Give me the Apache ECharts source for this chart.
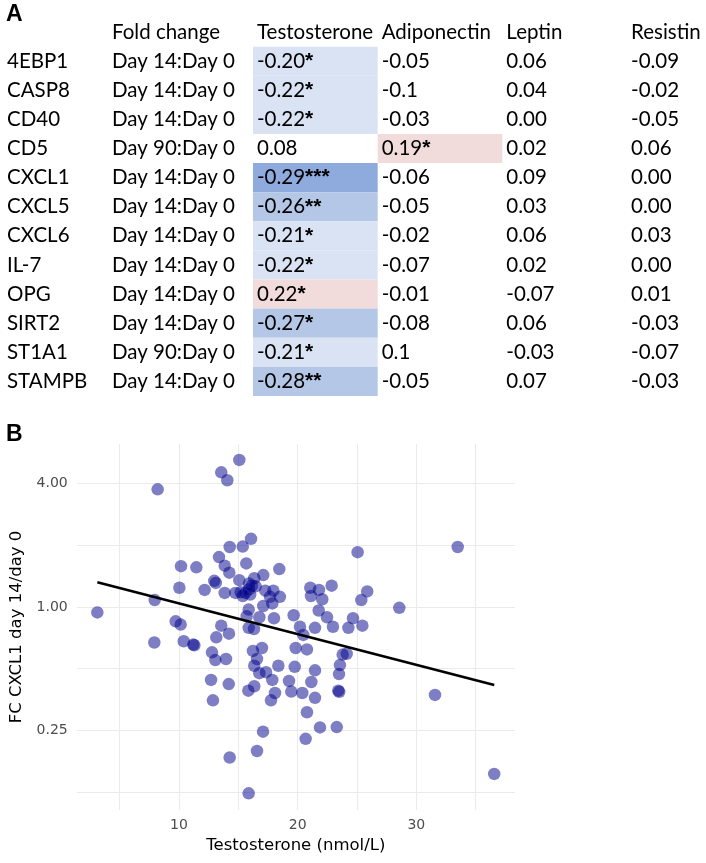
<!DOCTYPE html>
<html><head><meta charset="utf-8">
<script src="https://cdn.jsdelivr.net/npm/echarts@6/dist/echarts.min.js"></script>
<style>html,body{margin:0;padding:0;background:#fff}#c{width:706px;height:863px}</style>
</head><body><div id="c"></div>
<script>
// ---------- Panel A data ----------
const columns = ['Testosterone', 'Adiponectin', 'Leptin', 'Resistin'];
const genes = ['4EBP1', 'CASP8', 'CD40', 'CD5', 'CXCL1', 'CXCL5', 'CXCL6', 'IL-7', 'OPG', 'SIRT2', 'ST1A1', 'STAMPB'];
const foldChange = ['Day 14:Day 0', 'Day 14:Day 0', 'Day 14:Day 0', 'Day 90:Day 0', 'Day 14:Day 0', 'Day 14:Day 0',
  'Day 14:Day 0', 'Day 14:Day 0', 'Day 14:Day 0', 'Day 14:Day 0', 'Day 90:Day 0', 'Day 14:Day 0'];
const testosterone = ['-0.20', '-0.22', '-0.22', '0.08', '-0.29', '-0.26', '-0.21', '-0.22', '0.22', '-0.27', '-0.21', '-0.28'];
const testosteroneSig = ['*', '*', '*', '', '***', '**', '*', '*', '*', '*', '*', '**'];
const adiponectin = ['-0.05', '-0.1', '-0.03', '0.19', '-0.06', '-0.05', '-0.02', '-0.07', '-0.01', '-0.08', '0.1', '-0.05'];
const adiponectinSig = ['', '', '', '*', '', '', '', '', '', '', '', ''];
const leptin = ['0.06', '0.04', '0.00', '0.02', '0.09', '0.03', '0.06', '0.02', '-0.07', '0.06', '-0.03', '0.07'];
const leptinSig = ['', '', '', '', '', '', '', '', '', '', '', ''];
const resistin = ['-0.09', '-0.02', '-0.05', '0.06', '0.00', '0.00', '0.03', '0.00', '0.01', '-0.03', '-0.07', '-0.03'];
const resistinSig = ['', '', '', '', '', '', '', '', '', '', '', ''];

// ---------- Panel B data ----------
const scatterX = [15.08, 13.56, 14.07, 8.2, 16.07, 15.37, 14.27, 13.37, 10.17, 11.46, 13.85, 14.24, 15.67, 18.45, 17.1,
  16.34, 12.97, 13.1, 15.08, 10.03, 12.16, 13.85, 16.15, 16.46, 15.9, 15.6, 15.2, 14.75, 15.37, 16.0, 15.9,
  17.27, 17.95, 17.67, 18.5, 17.86, 17.1, 15.87, 15.7, 18.0, 16.77, 7.95, 3.12, 9.72, 10.14, 13.56, 14.21, 13.14,
  15.87, 16.32, 7.92, 10.4, 11.29, 11.2, 12.78, 13.06, 13.96, 16.23, 16.99, 16.57, 16.34, 16.77, 17.33, 18.37,
  17.86, 12.7, 14.19, 12.86, 15.84, 16.34, 18.09, 17.75, 17.08, 16.57, 14.27, 15.87,
  25.05, 33.48, 21.06, 21.79, 21.12, 22.86, 22.07, 25.86, 25.36, 21.77, 19.66, 22.47, 28.56, 20.19, 21.46, 22.97,
  24.66, 24.27, 25.45, 20.47, 19.83, 20.78, 23.79, 24.13, 23.56, 23.48, 23.42, 23.5, 19.75, 21.46, 19.27, 21.15,
  19.46, 20.39, 21.46, 20.78, 21.88, 23.29, 20.67, 31.57, 36.56];
const scatterY = [5.22, 4.54, 4.15, 3.75, 2.15, 1.97, 1.96, 1.75, 1.58, 1.56, 1.59, 1.47, 1.63, 1.53, 1.43,
  1.38, 1.34, 1.31, 1.35, 1.24, 1.21, 1.17, 1.27, 1.26, 1.22, 1.17, 1.18, 1.17, 1.13, 1.15, 1.30,
  1.2, 1.2, 1.12, 1.12, 1.04, 1.01, 0.97, 0.90, 0.88, 0.89, 1.08, 0.94, 0.85, 0.82, 0.81, 0.74, 0.71,
  0.79, 0.78, 0.67, 0.68, 0.65, 0.655, 0.60, 0.55, 0.557, 0.61, 0.63, 0.557, 0.516, 0.475, 0.48, 0.516,
  0.44, 0.44, 0.42, 0.35, 0.39, 0.41, 0.38, 0.35, 0.246, 0.198, 0.184, 0.123,
  1.85, 1.96, 1.24, 1.21, 1.13, 1.27, 1.09, 1.19, 1.08, 0.96, 0.91, 0.89, 0.99, 0.80, 0.79, 0.80,
  0.88, 0.79, 0.81, 0.73, 0.63, 0.62, 0.585, 0.59, 0.52, 0.47, 0.39, 0.385, 0.51, 0.49, 0.435, 0.43,
  0.386, 0.38, 0.36, 0.306, 0.258, 0.259, 0.227, 0.372, 0.153];
const fitX = [3.12, 36.56];
const fitY = [1.32, 0.416];
const xTicks = [5, 10, 15, 20, 25, 30, 35];
const xTickLabels = [10, 20, 30];
const yTicks = [0.125, 0.25, 0.5, 1, 2, 4];
const yTickLabels = [0.25, 1, 4];

// ---------- build ----------
const valueCols = [testosterone, adiponectin, leptin, resistin];
const sigCols = [testosteroneSig, adiponectinSig, leptinSig, resistinSig];
function cellFill(v, sig) {
  if (!sig) return null;
  const n = parseFloat(v);
  if (n > 0) return '#f2dcdb';
  if (n <= -0.29) return '#8faadc';
  if (n <= -0.25) return '#b4c7e7';
  return '#dae3f3';
}
const cells = [];
columns.forEach((name, c) => cells.push({ value: [c, 0], text: name, sig: '', fill: null }));
genes.forEach((g, r) => {
  valueCols.forEach((col, c) => {
    cells.push({ value: [c, r + 1], text: col[r], sig: sigCols[c][r], fill: cellFill(col[r], sigCols[c][r]) });
  });
});
const TF = 'Lato';
const TS = 20.5;
const AF = 'DejaVu Sans';

const chart = echarts.init(document.getElementById('c'), null, { renderer: 'canvas' });
chart.setOption({
  animation: false,
  backgroundColor: '#fff',
  title: [
    { text: 'A', left: 6, top: 3, padding: 0, textStyle: { fontFamily: 'Liberation Sans', fontWeight: 900, fontSize: 23, color: '#000' } },
    { text: 'B', left: 6, top: 423, padding: 0, textStyle: { fontFamily: 'Liberation Sans', fontWeight: 900, fontSize: 23, color: '#000' } }
  ],
  grid: [
    { left: 253, top: 17.6, width: 498.7, height: 378.3, outerBoundsMode: 'none', containLabel: false },
    { left: 76.7, top: 444, width: 438.3, height: 366, outerBoundsMode: 'none', containLabel: false }
  ],
  xAxis: [
    { gridIndex: 0, type: 'category', data: columns, show: false },
    {
      gridIndex: 1, type: 'value', min: 1.38, max: 38.31,
      axisLine: { show: false },
      axisTick: { show: false, customValues: xTicks },
      axisLabel: { customValues: xTickLabels, color: '#4d4d4d', fontSize: 14, margin: 8, fontFamily: AF },
      splitLine: { show: true, lineStyle: { color: '#ebebeb', width: 1.1 } },
      name: 'Testosterone (nmol/L)', nameLocation: 'middle', nameGap: 27,
      nameTextStyle: { color: '#000', fontSize: 16.5, fontFamily: AF }
    }
  ],
  yAxis: [
    {
      gridIndex: 0, type: 'category', data: [''].concat(genes), inverse: true,
      axisLine: { show: false }, axisTick: { show: false }, splitLine: { show: false },
      axisLabel: { interval: 0, align: 'left', margin: 246, color: '#000', fontFamily: TF, fontSize: TS }
    },
    {
      gridIndex: 0, type: 'category', data: ['Fold change'].concat(foldChange), inverse: true, position: 'left', offset: 0,
      axisLine: { show: false }, axisTick: { show: false }, splitLine: { show: false },
      axisLabel: { interval: 0, align: 'left', margin: 141, color: '#000', fontFamily: TF, fontSize: TS }
    },
    {
      gridIndex: 1, type: 'log', logBase: 2, min: 0.102, max: 6.24,
      axisLine: { show: false },
      axisTick: { show: false, customValues: yTicks },
      axisLabel: { customValues: yTickLabels, color: '#4d4d4d', fontSize: 14, margin: 9, fontFamily: AF,
        formatter: v => Number(v).toFixed(2) },
      splitLine: { show: true, lineStyle: { color: '#ebebeb', width: 1.1 } },
      name: 'FC CXCL1 day 14/day 0', nameLocation: 'middle', nameGap: 51, nameRotate: 90,
      nameTextStyle: { color: '#000', fontSize: 16.5, fontFamily: AF }
    }
  ],
  series: [
    {
      type: 'custom', xAxisIndex: 0, yAxisIndex: 0, data: cells, clip: false,
      renderItem: function (params, api) {
        const item = cells[params.dataIndex];
        const p = api.coord([api.value(0), api.value(1)]);
        const s = api.size([1, 1]);
        const children = [];
        if (item.fill) {
          children.push({ type: 'rect', shape: { x: p[0] - s[0] / 2, y: p[1] - s[1] / 2, width: s[0], height: s[1] }, style: { fill: item.fill } });
        }
        const txt = item.sig ? '{v|' + item.text + '}{s|' + item.sig + '}' : '{v|' + item.text + '}';
        children.push({
          type: 'text', x: p[0] - s[0] / 2 + 4, y: p[1],
          style: {
            text: txt, align: 'left', verticalAlign: 'middle', fill: '#000',
            rich: {
              v: { fontFamily: TF, fontSize: TS, fill: '#000', color: '#000' },
              s: { fontFamily: 'Liberation Sans', fontSize: 21, fontWeight: 'bold', fill: '#000', color: '#000' }
            }
          }
        });
        return { type: 'group', children: children };
      }
    },
    {
      type: 'scatter', xAxisIndex: 1, yAxisIndex: 2,
      data: scatterX.map((x, i) => [x, scatterY[i]]),
      symbolSize: 12.5,
      itemStyle: { color: 'rgba(0,0,139,0.63)' },
      z: 2
    },
    {
      type: 'line', xAxisIndex: 1, yAxisIndex: 2,
      data: fitX.map((x, i) => [x, fitY[i]]),
      showSymbol: false, symbol: 'none',
      lineStyle: { color: '#000', width: 2.6 },
      z: 3
    }
  ]
});
</script></body></html>
